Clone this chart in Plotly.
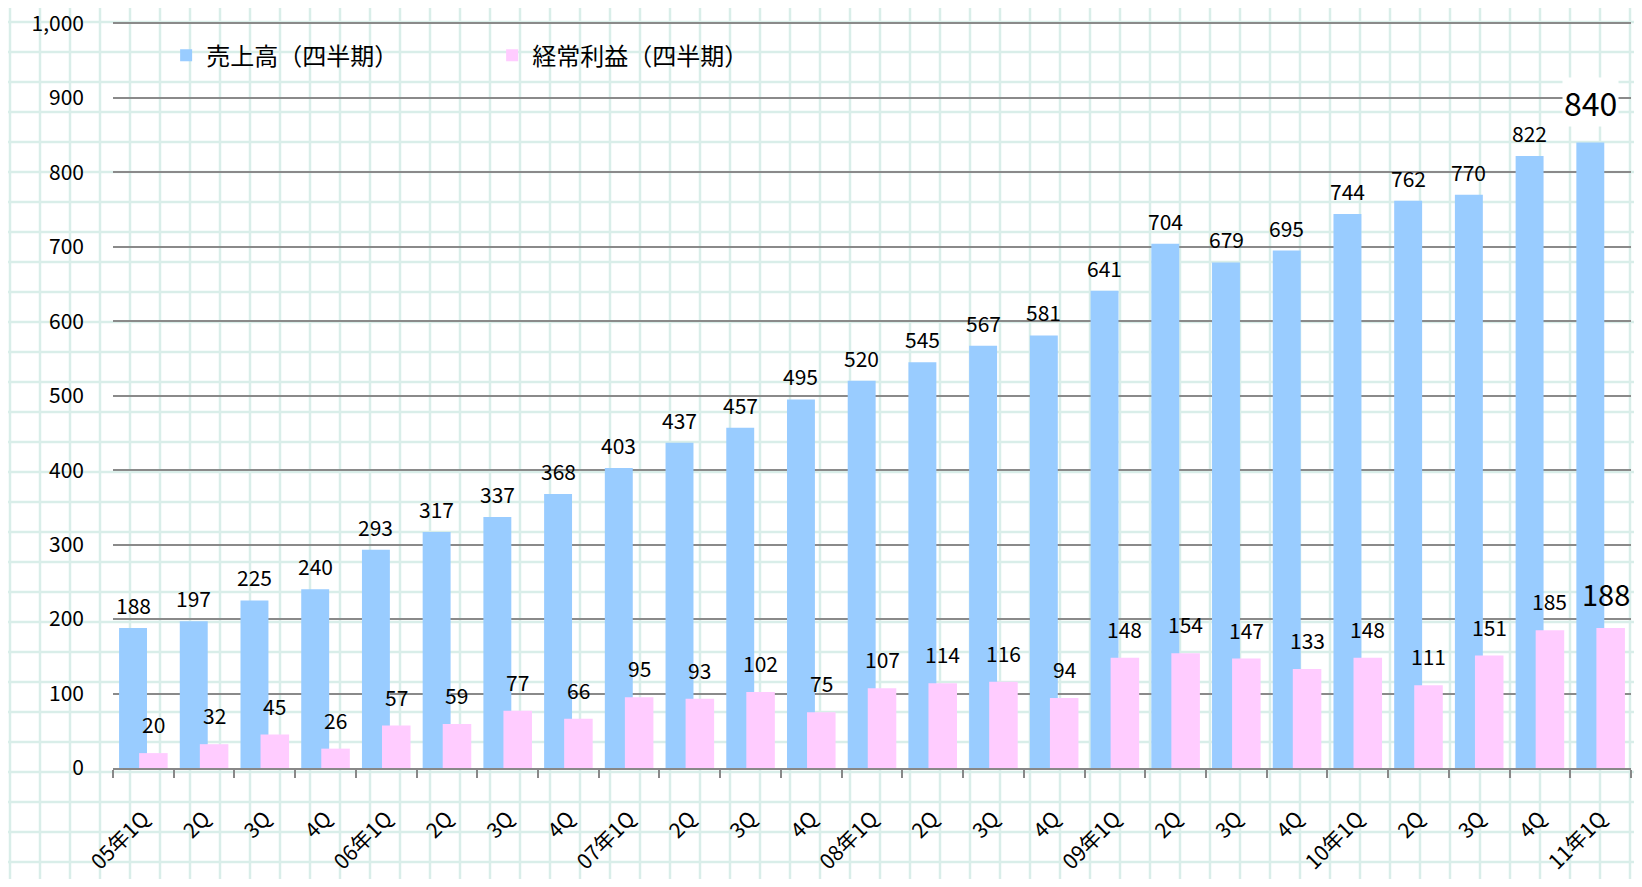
import plotly.graph_objects as go

# quarterly labels (05年1Q ... 11年1Q)
quarters = ["05年1Q", "2Q", "3Q", "4Q",
            "06年1Q", "2Q", "3Q", "4Q",
            "07年1Q", "2Q", "3Q", "4Q",
            "08年1Q", "2Q", "3Q", "4Q",
            "09年1Q", "2Q", "3Q", "4Q",
            "10年1Q", "2Q", "3Q", "4Q",
            "11年1Q"]

sales = [188, 197, 225, 240, 293, 317, 337, 368, 403, 437, 457, 495, 520,
         545, 567, 581, 641, 704, 679, 695, 744, 762, 770, 822, 840]
profit = [20, 32, 45, 26, 57, 59, 77, 66, 95, 93, 102, 75, 107,
          114, 116, 94, 148, 154, 147, 133, 148, 111, 151, 185, 188]

y_ticks = [0, 100, 200, 300, 400, 500, 600, 700, 800, 900, 1000]

FONT = "Noto Sans CJK JP"
# page has an 8px body margin, so the figure is a bit smaller than the window
W, H = 1626, 871
ML, MR, MT, MB = 105, 3, 14, 111
PW, PH = W - ML - MR, H - MT - MB

x = list(range(len(quarters)))

S_OFF, S_W = -0.40, 0.46
P_OFF, P_W = -0.07, 0.47

fig = go.Figure()

fig.add_trace(go.Bar(
    x=x, y=sales, name="売上高（四半期）",
    marker=dict(color="#99CCFF", line=dict(width=0)),
    offset=S_OFF, width=S_W,
))

fig.add_trace(go.Bar(
    x=x, y=profit, name="経常利益（四半期）",
    marker=dict(color="#FFCCFF", line=dict(width=0)),
    offset=P_OFF, width=P_W,
))

# value labels
for i in x:
    last = i == x[-1]
    fig.add_annotation(
        x=i + S_OFF + S_W / 2, y=sales[i], yanchor="bottom",
        yshift=16 if last else 6, text=str(sales[i]), showarrow=False,
        bgcolor="white" if last else None, borderpad=1,
        font=dict(family=FONT, size=32 if last else 21, color="black"),
    )
    fig.add_annotation(
        x=i + P_OFF + P_W / 2, y=profit[i], yanchor="bottom",
        yshift=12, xshift=-5 if last else 0, text=str(profit[i]), showarrow=False,
        borderpad=1,
        font=dict(family=FONT, size=29 if last else 21, color="black"),
    )

# graph-paper background
shapes = []
for px in range(2, W, 30):
    xp = (px - ML) / PW
    shapes.append(dict(type="line", xref="paper", yref="paper", layer="below",
                       x0=xp, x1=xp, y0=-MB / PH, y1=1 + MT / PH,
                       line=dict(color="#d9eee9", width=2.5)))
for py in range(14, H, 30):
    yp = 1 - (py - MT) / PH
    shapes.append(dict(type="line", xref="paper", yref="paper", layer="below",
                       x0=-ML / PW, x1=1 + MR / PW, y0=yp, y1=yp,
                       line=dict(color="#d9eee9", width=2.5)))

fig.update_layout(
    width=W, height=H,
    margin=dict(l=ML, r=MR, t=MT, b=MB, autoexpand=False),
    paper_bgcolor="white",
    plot_bgcolor="rgba(0,0,0,0)",
    barmode="overlay",
    shapes=shapes,
    font=dict(family=FONT, color="black"),
    legend=dict(orientation="h", x=0.035, y=0.955, xanchor="left", yanchor="middle",
                font=dict(family=FONT, size=24), bgcolor="rgba(0,0,0,0)",
                entrywidth=281, entrywidthmode="pixels"),
    xaxis=dict(
        range=[-0.5, len(quarters) - 0.5], automargin=False,
        tickmode="array", tickvals=x, ticktext=quarters,
        tickangle=-45, ticks="", ticklabelstandoff=28,
        ticklabeloverflow="allow",
        tickfont=dict(family=FONT, size=21),
        showgrid=False, zeroline=False,
        showline=True, linecolor="#888888", linewidth=2,
        minor=dict(tickmode="array", tickvals=[i - 0.5 for i in range(len(quarters) + 1)],
                   ticks="outside", ticklen=8, tickcolor="#888888", tickwidth=2,
                   showgrid=False),
    ),
    yaxis=dict(
        range=[0, 1002], automargin=False,
        tickvals=y_ticks, tickformat=",",
        tickfont=dict(family=FONT, size=21),
        ticklabelstandoff=28, ticklabeloverflow="allow",
        showgrid=True, gridcolor="#8a8a8a", gridwidth=1.5,
        zeroline=False,
    ),
)

fig.write_html("out.html")
